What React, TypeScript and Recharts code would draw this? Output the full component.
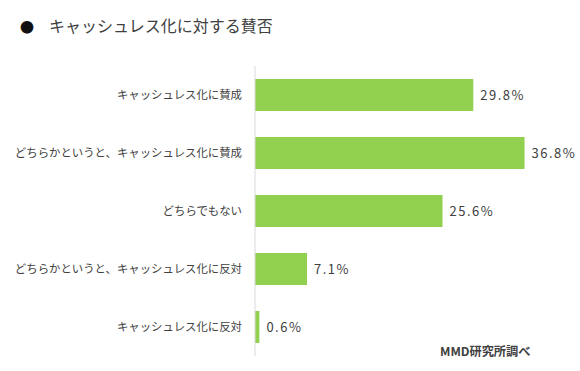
import React from "react";
import { BarChart, Bar, XAxis, YAxis, LabelList } from "recharts";

const categories = [
  "キャッシュレス化に賛成",
  "どちらかというと、キャッシュレス化に賛成",
  "どちらでもない",
  "どちらかというと、キャッシュレス化に反対",
  "キャッシュレス化に反対",
];
const values = [29.8, 36.8, 25.6, 7.1, 0.6];
const title = "キャッシュレス化に対する賛否";
const source = "MMD研究所調べ";

const data = categories.map((c, i) => ({ name: c, value: values[i] }));
const FONT = "'Noto Sans CJK JP', 'Noto Sans', sans-serif";

export default function App() {
  return (
    <div style={{ position: "absolute", left: 0, top: 0, width: 580, height: 371, background: "#fff", fontFamily: FONT }}>
      <div style={{ position: "absolute", left: 20, top: 13, fontSize: 16, color: "#404040", whiteSpace: "nowrap" }}>
        <span style={{ color: "#111", fontSize: 14 }}>●</span>
        <span style={{ marginLeft: 15 }}>{title}</span>
      </div>
      <BarChart
        width={580}
        height={371}
        data={data}
        layout="vertical"
        margin={{ top: 66, right: 32, bottom: 15, left: 0 }}
        barCategoryGap={13}
      >
        <XAxis type="number" domain={[0, 40]} hide />
        <YAxis
          type="category"
          dataKey="name"
          width={255}
          tickSize={0}
          tickMargin={13}
          axisLine={{ stroke: "#d9d9d9", strokeWidth: 1 }}
          tickLine={false}
          tick={{ fill: "#404040", fontSize: 11.4, fontFamily: FONT }}
          interval={0}
        />
        <Bar dataKey="value" fill="#92D050" isAnimationActive={false}>
          <LabelList
            dataKey="value"
            position="right"
            offset={7}
            formatter={(v: number) => `${v.toFixed(1)}%`}
            style={{ fill: "#404040", fontSize: 13, letterSpacing: 1.5, fontFamily: FONT }}
          />
        </Bar>
      </BarChart>
      <div style={{ position: "absolute", left: 440, top: 342, fontSize: 12.2, fontWeight: "bold", color: "#404040", whiteSpace: "nowrap" }}>
        {source}
      </div>
    </div>
  );
}
